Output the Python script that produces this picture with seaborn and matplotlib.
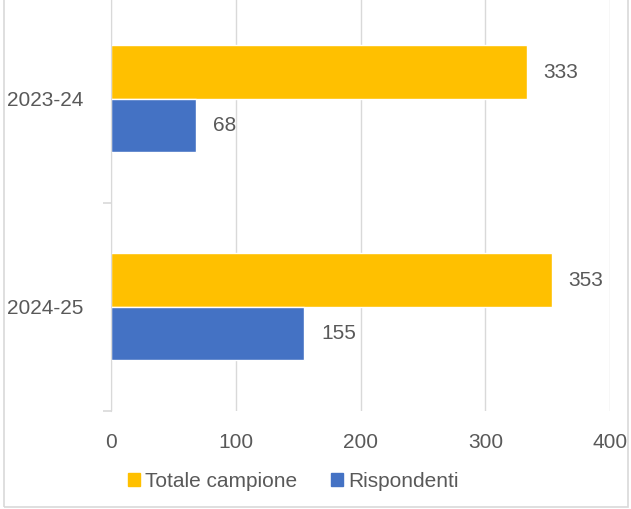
import pandas as pd
import seaborn as sns
import matplotlib.pyplot as plt
from matplotlib.patches import Rectangle

anni = ['2023-24', '2024-25']
serie = ['Totale campione', 'Rispondenti']
totale = [333, 353]
rispondenti = [68, 155]
colori = ['#FFC000', '#4472C4']

df = pd.DataFrame({
    'anno': anni * 2,
    'serie': [serie[0]] * 2 + [serie[1]] * 2,
    'valore': totale + rispondenti,
})

sns.set_style('white')
plt.rcParams['font.family'] = ['Liberation Sans', 'DejaVu Sans']

fig = plt.figure(figsize=(6.31, 5.09), dpi=100)
ax = fig.add_axes([0.176, 0.193, 0.791, 0.817])
sns.barplot(data=df, y='anno', x='valore', hue='serie', orient='h',
            palette=colori, width=0.515, saturation=1, ax=ax)

grigio = '#595959'
for cont in ax.containers:
    ax.bar_label(cont, padding=12, fontsize=15, color=grigio)

ax.set_xlim(0, 400)
ax.set_ylim(1.5, -0.5)
ax.set_xticks([0, 100, 200, 300, 400])
ax.xaxis.grid(True, color='#D9D9D9', linewidth=1)
ax.set_axisbelow(True)
for s in ['top', 'right', 'bottom']:
    ax.spines[s].set_visible(False)
ax.spines['left'].set_color('#D9D9D9')
ax.tick_params(axis='x', length=0, labelsize=15, labelcolor=grigio, pad=16)
ax.tick_params(axis='y', length=0, labelsize=15, labelcolor=grigio, pad=20)
ax.set_yticks([-0.5, 0.5, 1.5], minor=True)
ax.tick_params(axis='y', which='minor', left=True, length=6, color='#D9D9D9', width=1.2)
ax.set_xlabel('')
ax.set_ylabel('')

ax.legend_.remove()
handles = [Rectangle((0, 0), 1, 1, color=c) for c in colori]
fig.legend(handles, serie, loc='center', bbox_to_anchor=(0.465, 0.055), ncol=2,
           frameon=False, fontsize=15, labelcolor=grigio, handlelength=0.6,
           handleheight=0.6, handletextpad=0.25, columnspacing=1.6)

fig.patches.append(Rectangle((0.006, 0.004), 0.99, 1.0, transform=fig.transFigure,
                             fill=False, edgecolor='#D9D9D9', linewidth=1.2))

fig.savefig('out.png', dpi=100)
